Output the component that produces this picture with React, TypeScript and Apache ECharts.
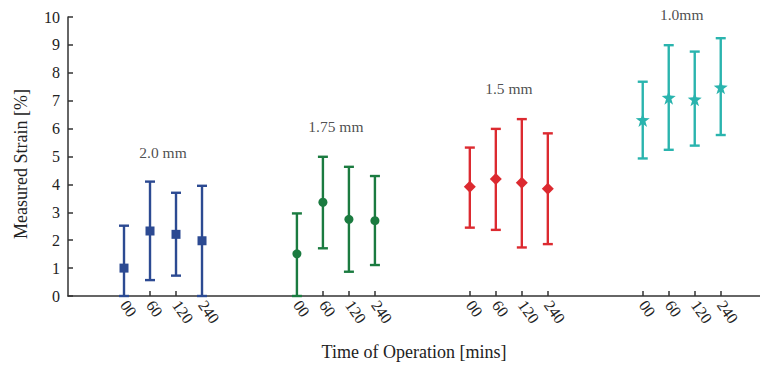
import React, { useEffect, useRef } from "react";
import * as echarts from "echarts";

const timeLabels = ["00", "60", "120", "240"];
const groupNames = ["2.0 mm", "1.75 mm", "1.5 mm", "1.0mm"];
const groupStarts = [0, 6.65, 13.3, 19.95];
const groupColors = ["#2C4A92", "#1B7B40", "#DC2A30", "#2AB4AE"];
const groupSymbols = ["rect", "circle", "diamond", "path://M50,0 L61.8,35.3 L100,38.2 L69.1,61.8 L80.9,100 L50,78 L19.1,100 L30.9,61.8 L0,38.2 L38.2,35.3 Z"];
const groupSymbolSizes = [9, 9, 12, 14];

const means = [
  [1.0, 2.33, 2.21, 1.98],
  [1.51, 3.36, 2.75, 2.7],
  [3.92, 4.19, 4.06, 3.84],
  [6.31, 7.11, 7.05, 7.48],
];
const lowers = [
  [0, 0.57, 0.73, 0],
  [0, 1.71, 0.87, 1.11],
  [2.45, 2.37, 1.74, 1.86],
  [4.93, 5.24, 5.39, 5.77],
];
const uppers = [
  [2.52, 4.1, 3.7, 3.95],
  [2.96, 4.99, 4.63, 4.3],
  [5.32, 5.99, 6.34, 5.83],
  [7.68, 8.99, 8.76, 9.24],
];
const groupLabelY = [5.16, 6.09, 7.45, 10.1];

const yTicks = [0, 1, 2, 3, 4, 5, 6, 7, 8, 9, 10];
const yTitle = "Measured Strain [%]";
const xTitle = "Time of Operation [mins]";

const FONT = "Liberation Serif";

export default function App() {
  const ref = useRef<HTMLDivElement>(null);
  useEffect(() => {
    document.body.style.margin = "0";
    if (!ref.current) return;
    const chart = echarts.init(ref.current, undefined, { renderer: "svg" });

    const positions: number[] = [];
    const posLabels: string[] = [];
    groupStarts.forEach((g) => {
      timeLabels.forEach((t, i) => {
        positions.push(g + i);
        posLabels.push(t);
      });
    });

    const series: any[] = [];
    groupNames.forEach((name, gi) => {
      const color = groupColors[gi];
      const barData = timeLabels.map((_, i) => [groupStarts[gi] + i, lowers[gi][i], uppers[gi][i]]);
      series.push({
        type: "custom",
        name: name + " err",
        clip: false,
        data: barData,
        renderItem: (params: any, api: any) => {
          const x = api.value(0);
          const lo = api.coord([x, api.value(1)]);
          const hi = api.coord([x, api.value(2)]);
          const hw = 5;
          const style = { stroke: color, lineWidth: 2.4, fill: "none" };
          return {
            type: "group",
            children: [
              { type: "line", shape: { x1: lo[0], y1: lo[1], x2: hi[0], y2: hi[1] }, style },
              { type: "line", shape: { x1: lo[0] - hw, y1: lo[1], x2: lo[0] + hw, y2: lo[1] }, style },
              { type: "line", shape: { x1: hi[0] - hw, y1: hi[1], x2: hi[0] + hw, y2: hi[1] }, style },
            ],
          };
        },
        z: 3,
      });
      series.push({
        type: "scatter",
        name,
        data: timeLabels.map((_, i) => [groupStarts[gi] + i, means[gi][i]]),
        symbol: groupSymbols[gi],
        symbolSize: groupSymbolSizes[gi],
        itemStyle: { color, opacity: 1 },
        z: 4,
      });
    });

    series.push({
      type: "scatter",
      name: "labels",
      clip: false,
      symbolSize: 0,
      data: groupNames.map((n, gi) => ({ value: [groupStarts[gi] + 1.5, groupLabelY[gi]], name: n })),
      label: {
        show: true,
        position: "inside",
        formatter: (p: any) => p.name,
        fontFamily: FONT,
        fontSize: 15.5,
        color: "#222",
      },
    });

    chart.setOption({
      animation: false,
      textStyle: { fontFamily: FONT },
      grid: { left: 68, right: 0, top: 17, bottom: 80, containLabel: false },
      graphic: [
        {
          type: "text",
          x: 21,
          y: 164,
          rotation: Math.PI / 2,
          style: {
            text: yTitle,
            fontFamily: FONT,
            fontSize: 18,
            fill: "#222",
            textAlign: "center",
            textVerticalAlign: "middle",
          },
        },
      ],
      xAxis: {
        type: "value",
        min: -2.154,
        max: 24.46,
        splitLine: { show: false },
        name: xTitle,
        nameLocation: "middle",
        nameGap: 47,
        nameTextStyle: { fontFamily: FONT, fontSize: 18, color: "#222" },
        axisLine: { show: true, onZero: false, lineStyle: { color: "#333", width: 1.5 } },
        axisTick: { show: true, inside: true, length: 5, customValues: positions, lineStyle: { color: "#333", width: 1.5 } },
        axisLabel: {
          show: true,
          customValues: positions,
          rotate: -55,
          margin: 6,
          fontFamily: FONT,
          fontSize: 16,
          color: "#222",
          formatter: (v: number) => {
            let best = 0;
            positions.forEach((p, i) => {
              if (Math.abs(p - v) < Math.abs(positions[best] - v)) best = i;
            });
            return posLabels[best];
          },
        },
      },
      yAxis: {
        type: "value",
        min: 0,
        max: 10,
        interval: 1,
        splitLine: { show: false },
        axisLine: { show: true, onZero: false, lineStyle: { color: "#333", width: 1.5 } },
        axisTick: { show: true, inside: true, length: 5, lineStyle: { color: "#333", width: 1.5 } },
        axisLabel: {
          fontFamily: FONT,
          fontSize: 16,
          color: "#222",
          margin: 8,
          formatter: (v: number) => (yTicks.includes(v) ? String(v) : ""),
        },
      },
      series,
    });
    return () => chart.dispose();
  }, []);
  return <div ref={ref} style={{ width: 760, height: 376 }} />;
}
